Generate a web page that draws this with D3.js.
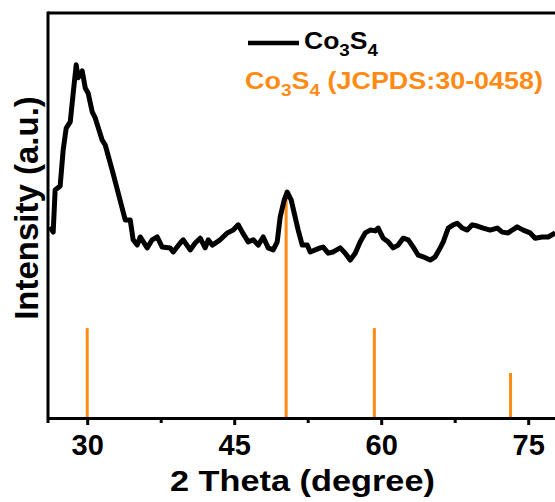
<!DOCTYPE html>
<html>
<head>
<meta charset="utf-8">
<script src="https://cdn.jsdelivr.net/npm/d3@7"></script>
<style>
  body { margin: 0; background: #fff; }
  svg { display: block; font-family: "Liberation Sans", Arial, sans-serif; font-weight: bold; }
</style>
</head>
<body>
<div id="chart"></div>
<script>
// measured pattern (2 theta, intensity)
var theta = [26.22, 26.53, 26.73, 27.24, 27.55, 27.86, 28.27, 28.57, 28.88, 29.08, 29.49, 29.80, 30.10, 30.51, 30.82,
  31.53, 31.84, 32.55, 33.16, 33.88, 34.39, 34.69, 35.10, 35.41, 36.12, 36.63, 37.14, 37.65, 38.47, 38.78,
  39.49, 39.80, 40.51, 41.02, 41.53, 42.04, 42.35, 42.76, 43.57, 44.29, 44.90, 45.41, 45.82, 46.43, 46.94,
  47.45, 47.96, 48.47, 48.98, 49.39, 49.69, 50.10, 50.41, 50.82, 51.22, 51.53, 51.94, 52.45, 52.76, 53.27,
  53.78, 54.08, 54.59, 55.10, 55.82, 56.33, 56.84, 57.35, 57.86, 58.37, 58.88, 59.39, 59.69, 60.20, 60.71,
  61.22, 61.73, 62.24, 62.76, 63.27, 63.78, 64.29, 65.00, 65.51, 66.02, 66.33, 66.84, 67.35, 67.76, 68.27,
  68.78, 69.29, 69.80, 70.41, 71.12, 71.84, 72.35, 72.96, 73.37, 73.88, 74.49, 75.20, 75.71, 76.43, 77.04, 77.76];
var intensity = [47.2, 45.9, 56.3, 57.3, 66.2, 71.6, 73.1, 80.2, 87.2, 84.0, 85.7, 81.5, 80.2, 75.6, 74.1,
  68.6, 67.4, 61.2, 55.6, 48.9, 48.9, 44.0, 42.7, 44.7, 42.0, 44.0, 44.7, 42.2, 42.0, 41.0,
  43.2, 44.0, 41.5, 43.2, 44.4, 42.0, 44.0, 42.7, 44.0, 45.7, 46.4, 47.7, 45.9, 43.5, 44.0,
  42.7, 44.7, 42.0, 41.5, 43.5, 49.6, 53.8, 55.8, 53.8, 49.6, 46.4, 42.7, 42.7, 41.0, 41.5,
  42.0, 42.2, 40.7, 41.0, 42.0, 40.7, 39.0, 40.7, 43.5, 45.7, 46.4, 46.2, 46.9, 44.4, 43.5,
  42.0, 42.7, 44.4, 44.0, 42.2, 40.2, 39.8, 39.0, 39.8, 42.0, 43.5, 46.9, 47.7, 48.1, 46.9,
  46.4, 47.7, 47.4, 46.9, 46.4, 46.9, 45.9, 45.7, 46.4, 47.2, 46.4, 45.7, 44.4, 44.7, 44.7, 45.7];

// JCPDS 30-0458 reference lines
var refTheta = [30.0, 50.3, 59.3, 73.2];
var refIntensity = [22.2, 56.3, 22.2, 11.1];

var majorTicks = [30, 45, 60, 75];
var minorTicks = [37.5, 52.5, 67.5];

var width = 555, height = 502;
var margin = {top: 13, left: 48, bottom: 84};

var svg = d3.select("#chart").append("svg")
    .attr("width", width)
    .attr("height", height);

// plot runs past the right edge of the picture
var x = d3.scaleLinear().domain([26, 80]).range([margin.left, margin.left + 54 * 9.8]);
var y = d3.scaleLinear().domain([0, 100]).range([height - margin.bottom, margin.top]);

var orange = "#ff8a14";

// widen a text from its left edge to a given width
function stretch(t, w, x0, y0) {
    var s = w / t.node().getComputedTextLength();
    t.attr("transform", "translate(" + x0 + "," + y0 + ") scale(" + s + ",1) translate(" + (-x0) + "," + (-y0) + ")");
}

// reference sticks
svg.selectAll(".stick")
    .data(refTheta)
    .join("line")
        .attr("class", "stick")
        .attr("x1", d => x(d)).attr("x2", d => x(d))
        .attr("y1", y(0))
        .attr("y2", (d, i) => y(refIntensity[i]))
        .attr("stroke", orange)
        .attr("stroke-width", 3);

// pattern line
var pts = theta.map((t, i) => [t, intensity[i]]);
svg.append("path")
    .datum(pts)
    .attr("fill", "none")
    .attr("stroke", "#000")
    .attr("stroke-width", 5)
    .attr("stroke-linejoin", "round")
    .attr("d", d3.line().x(d => x(d[0])).y(d => y(d[1])));

// frame
svg.append("line")
    .attr("x1", margin.left).attr("x2", width + 5)
    .attr("y1", margin.top).attr("y2", margin.top)
    .attr("stroke", "#000").attr("stroke-width", 3);
svg.append("line")
    .attr("x1", margin.left).attr("x2", margin.left)
    .attr("y1", margin.top - 1.5).attr("y2", y(0) + 5)
    .attr("stroke", "#000").attr("stroke-width", 3);

// bottom axis
var xAxis = svg.append("g")
    .attr("transform", "translate(0," + y(0) + ")")
    .call(d3.axisBottom(x).tickValues(majorTicks).tickSize(7).tickPadding(9).tickSizeOuter(0));
xAxis.select(".domain").attr("stroke-width", 3);
xAxis.selectAll(".tick line").attr("stroke-width", 3);
xAxis.selectAll(".tick text")
    .attr("font-size", 29)
    .attr("font-family", "'Liberation Sans', Arial, sans-serif")
    .attr("font-weight", "bold")
    .attr("fill", "#000");

svg.append("g")
    .attr("transform", "translate(0," + y(0) + ")")
    .call(d3.axisBottom(x).tickValues(minorTicks).tickSize(5).tickFormat("").tickSizeOuter(0))
    .call(g => g.select(".domain").remove())
    .selectAll(".tick line").attr("stroke-width", 3);

// axis titles
var xt = svg.append("text")
    .attr("x", 170).attr("y", 491)
    .attr("font-size", 29)
    .text("2 Theta (degree)");
stretch(xt, 265, 170, 491);

svg.append("text")
    .attr("transform", "translate(38,208) rotate(-90)")
    .attr("text-anchor", "middle")
    .attr("font-size", 33)
    .text("Intensity (a.u.)");

// legend
svg.append("line")
    .attr("x1", 248).attr("x2", 299)
    .attr("y1", 43).attr("y2", 43)
    .attr("stroke", "#000").attr("stroke-width", 4.5);

function formula(t, color) {
    t.attr("fill", color).attr("font-size", 24);
    t.append("tspan").text("Co");
    t.append("tspan").attr("font-size", 17).attr("dy", 7).text("3");
    t.append("tspan").attr("dy", -7).text("S");
    t.append("tspan").attr("font-size", 17).attr("dy", 7).text("4");
    return t;
}

var leg = formula(svg.append("text").attr("x", 304).attr("y", 49), "#000");
stretch(leg, 74, 304, 49);

var ref = formula(svg.append("text").attr("x", 245).attr("y", 89), orange);
ref.append("tspan").attr("dy", -7).text(" (JCPDS:30-0458)");
stretch(ref, 298, 245, 89);
</script>
</body>
</html>
